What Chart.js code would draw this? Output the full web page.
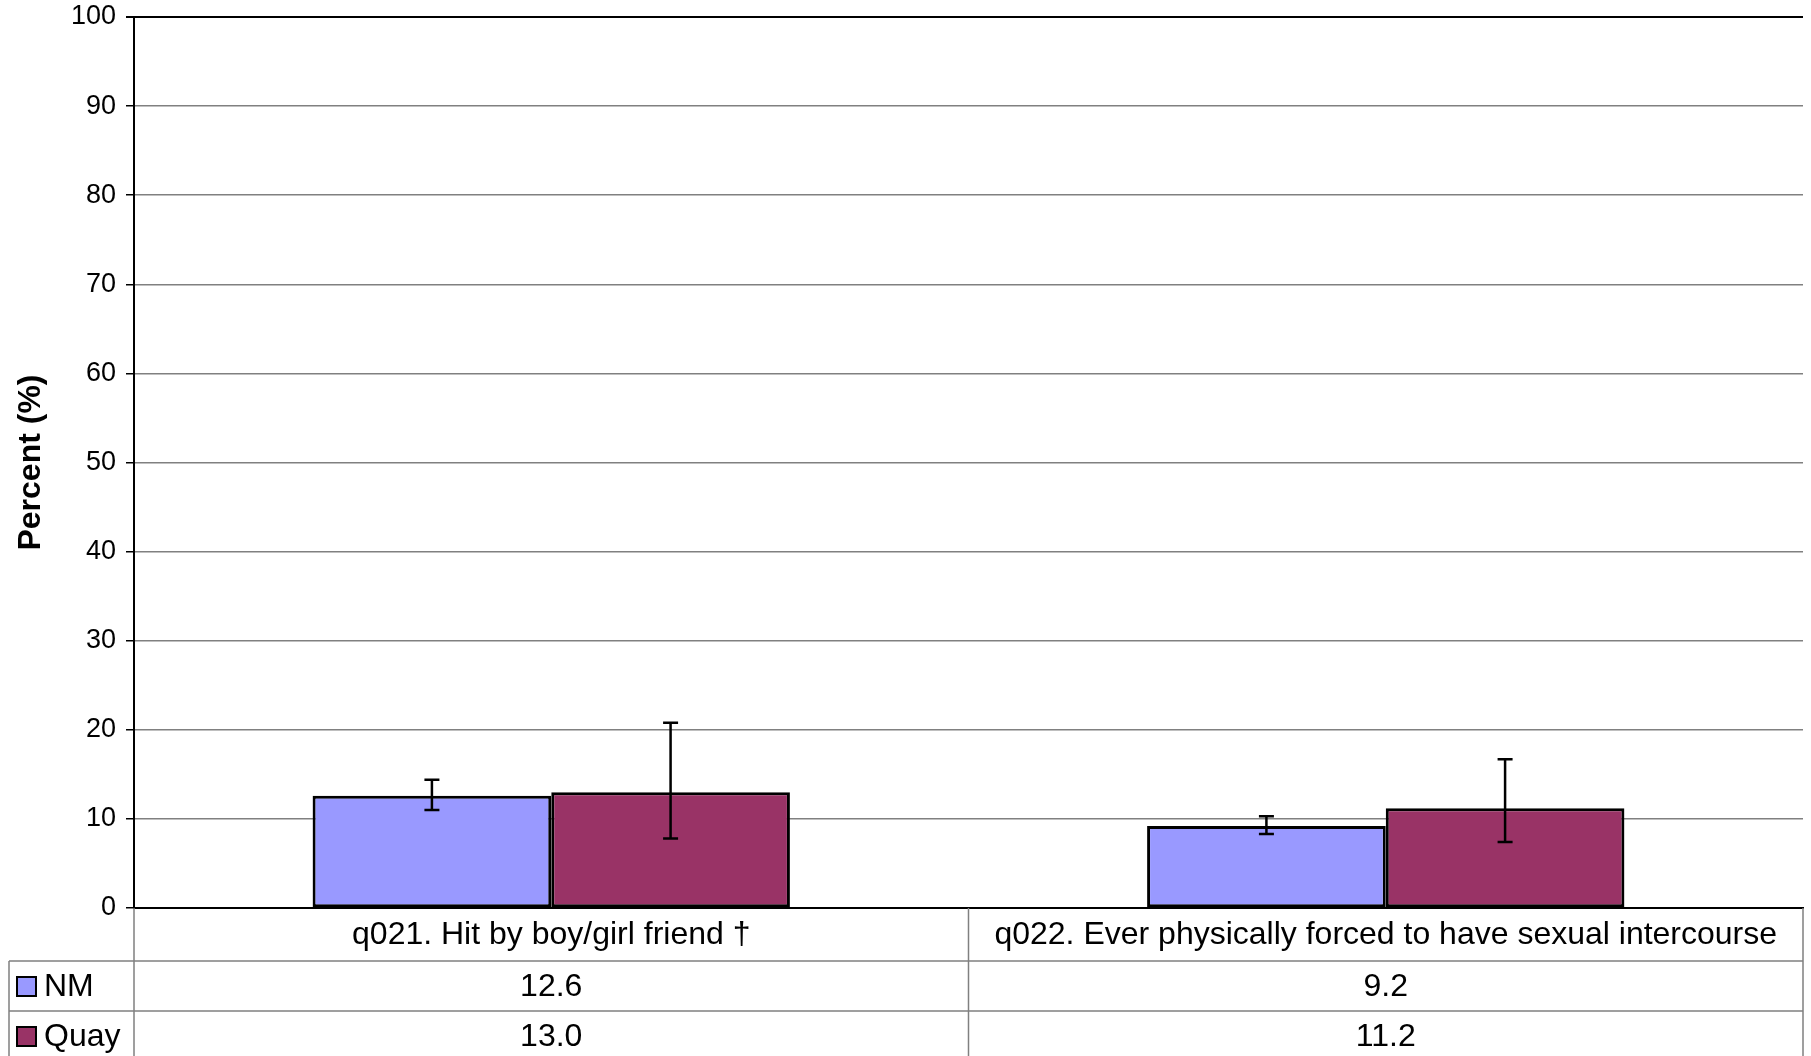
<!DOCTYPE html>
<html>
<head>
<meta charset="utf-8">
<script src="https://cdn.jsdelivr.net/npm/chart.js@4.4.0/dist/chart.umd.min.js"></script>
<style>
  html, body { margin: 0; padding: 0; background: #fff; overflow: hidden; }
  #wrap { width: 1811px; height: 1056px; position: relative; }
</style>
</head>
<body>
<div id="wrap"><canvas id="chart" width="1811" height="1056"></canvas></div>
<script>
// =============== DATA ===============
const categories = ['q021. Hit by boy/girl friend \u2020', 'q022. Ever physically forced to have sexual intercourse'];
const seriesNames = ['NM', 'Quay'];
const nmValues = [12.6, 9.2];
const quayValues = [13.0, 11.2];
// confidence intervals (lower / upper)
const nmLow = [11.0, 8.3];
const nmHigh = [14.4, 10.3];
const quayLow = [7.8, 7.4];
const quayHigh = [20.8, 16.7];
const yTicks = [0, 10, 20, 30, 40, 50, 60, 70, 80, 90, 100];

const FONT = "'Liberation Sans', Arial, sans-serif";
const colorNM = '#9999FF';
const colorQuay = '#993366';
const lineGray = '#808080';

// =============== ERROR BARS ===============
const errorBarPlugin = {
  id: 'errorBars',
  afterDatasetsDraw(chart) {
    const ctx = chart.ctx;
    const y = chart.scales.y;
    const ranges = [[nmLow, nmHigh], [quayLow, quayHigh]];
    ctx.save();
    ctx.strokeStyle = '#000';
    ctx.lineWidth = 2.5;
    chart.data.datasets.forEach((ds, di) => {
      const meta = chart.getDatasetMeta(di);
      meta.data.forEach((bar, i) => {
        const yLo = y.getPixelForValue(ranges[di][0][i]);
        const yHi = y.getPixelForValue(ranges[di][1][i]);
        const cap = 7.5;
        ctx.beginPath();
        ctx.moveTo(bar.x, yLo); ctx.lineTo(bar.x, yHi);
        ctx.moveTo(bar.x - cap, yLo); ctx.lineTo(bar.x + cap, yLo);
        ctx.moveTo(bar.x - cap, yHi); ctx.lineTo(bar.x + cap, yHi);
        ctx.stroke();
      });
    });
    ctx.restore();
  }
};

// =============== DATA TABLE UNDER THE AXIS ===============
const dataTablePlugin = {
  id: 'dataTable',
  afterDraw(chart) {
    const ctx = chart.ctx;
    const x = chart.scales.x;
    const area = chart.chartArea;
    const rowTop = area.bottom;
    const rowH = [53, 50, 50];
    const r1 = rowTop + rowH[0];
    const r2 = r1 + rowH[1];
    const r3 = r2 + rowH[2];
    const tableLeft = 9;
    const half = (x.getPixelForValue(1) - x.getPixelForValue(0)) / 2;
    const colEdges = [area.left];
    categories.forEach((c, i) => colEdges.push(x.getPixelForValue(i) + half));
    colEdges[colEdges.length - 1] = area.right;

    ctx.save();
    ctx.strokeStyle = lineGray;
    ctx.lineWidth = 1.5;
    ctx.beginPath();
    // horizontal rules
    ctx.moveTo(tableLeft, r1); ctx.lineTo(area.right, r1);
    ctx.moveTo(tableLeft, r2); ctx.lineTo(area.right, r2);
    ctx.moveTo(tableLeft, r3); ctx.lineTo(area.right, r3);
    // verticals
    ctx.moveTo(tableLeft, r1); ctx.lineTo(tableLeft, r3);
    colEdges.forEach(cx => { ctx.moveTo(cx, rowTop); ctx.lineTo(cx, r3); });
    ctx.stroke();

    ctx.fillStyle = '#000';
    ctx.font = '32px ' + FONT;
    ctx.textAlign = 'center';
    ctx.textBaseline = 'middle';
    categories.forEach((c, i) => {
      ctx.fillText(c, x.getPixelForValue(i), (rowTop + r1) / 2 + 1);
      ctx.fillText(nmValues[i].toFixed(1), x.getPixelForValue(i), (r1 + r2) / 2 + 1);
      ctx.fillText(quayValues[i].toFixed(1), x.getPixelForValue(i), (r2 + r3) / 2 + 1);
    });

    // legend keys
    const keys = [[colorNM, r1, r2], [colorQuay, r2, r3]];
    ctx.textAlign = 'left';
    keys.forEach((k, i) => {
      const cy = (k[1] + k[2]) / 2;
      ctx.fillStyle = k[0];
      ctx.fillRect(17, cy - 9, 19, 19);
      ctx.strokeStyle = '#000';
      ctx.lineWidth = 2;
      ctx.strokeRect(17, cy - 9, 19, 19);
      ctx.fillStyle = '#000';
      ctx.fillText(seriesNames[i], 44, cy + 1);
    });
    ctx.restore();
  }
};

// =============== CHART ===============
const ctx = document.getElementById('chart').getContext('2d');
new Chart(ctx, {
  type: 'bar',
  data: {
    labels: categories,
    datasets: [
      {
        label: seriesNames[0],
        data: nmValues,
        backgroundColor: colorNM,
        borderColor: '#000',
        borderWidth: 3,
        borderSkipped: false,
        categoryPercentage: 0.572,
        barPercentage: 1.0
      },
      {
        label: seriesNames[1],
        data: quayValues,
        backgroundColor: colorQuay,
        borderColor: '#000',
        borderWidth: 3,
        borderSkipped: false,
        categoryPercentage: 0.572,
        barPercentage: 1.0
      }
    ]
  },
  options: {
    responsive: false,
    animation: false,
    layout: { padding: { top: 17, right: 8, left: 0, bottom: 0 } },
    plugins: {
      legend: { display: false },
      tooltip: { enabled: false },
      title: { display: false }
    },
    scales: {
      x: {
        ticks: { display: false },
        grid: { display: false, drawTicks: false },
        border: { display: true, color: '#000', width: 2 },
        afterFit(scale) { scale.height = 148; }
      },
      y: {
        min: 0,
        max: 100,
        afterBuildTicks(scale) { scale.ticks = yTicks.map(v => ({ value: v })); },
        ticks: {
          color: '#000',
          font: { family: FONT, size: 27 },
          padding: 10
        },
        grid: {
          color: ctx => (ctx.tick && ctx.tick.value === 100) ? '#000' : lineGray,
          lineWidth: ctx => (ctx.tick && ctx.tick.value === 100) ? 2 : 1.5,
          tickColor: '#000',
          tickLength: 8
        },
        border: { display: true, color: '#000', width: 2 },
        title: {
          display: true,
          text: 'Percent (%)',
          color: '#000',
          font: { family: FONT, size: 32, weight: 'bold' },
          padding: { top: 12, bottom: 0 }
        },
        afterFit(scale) {
          scale.width = 134;
          scale.paddingTop = 0;
          scale.paddingBottom = 0;
        }
      }
    }
  },
  plugins: [errorBarPlugin, dataTablePlugin]
});
</script>
</body>
</html>
